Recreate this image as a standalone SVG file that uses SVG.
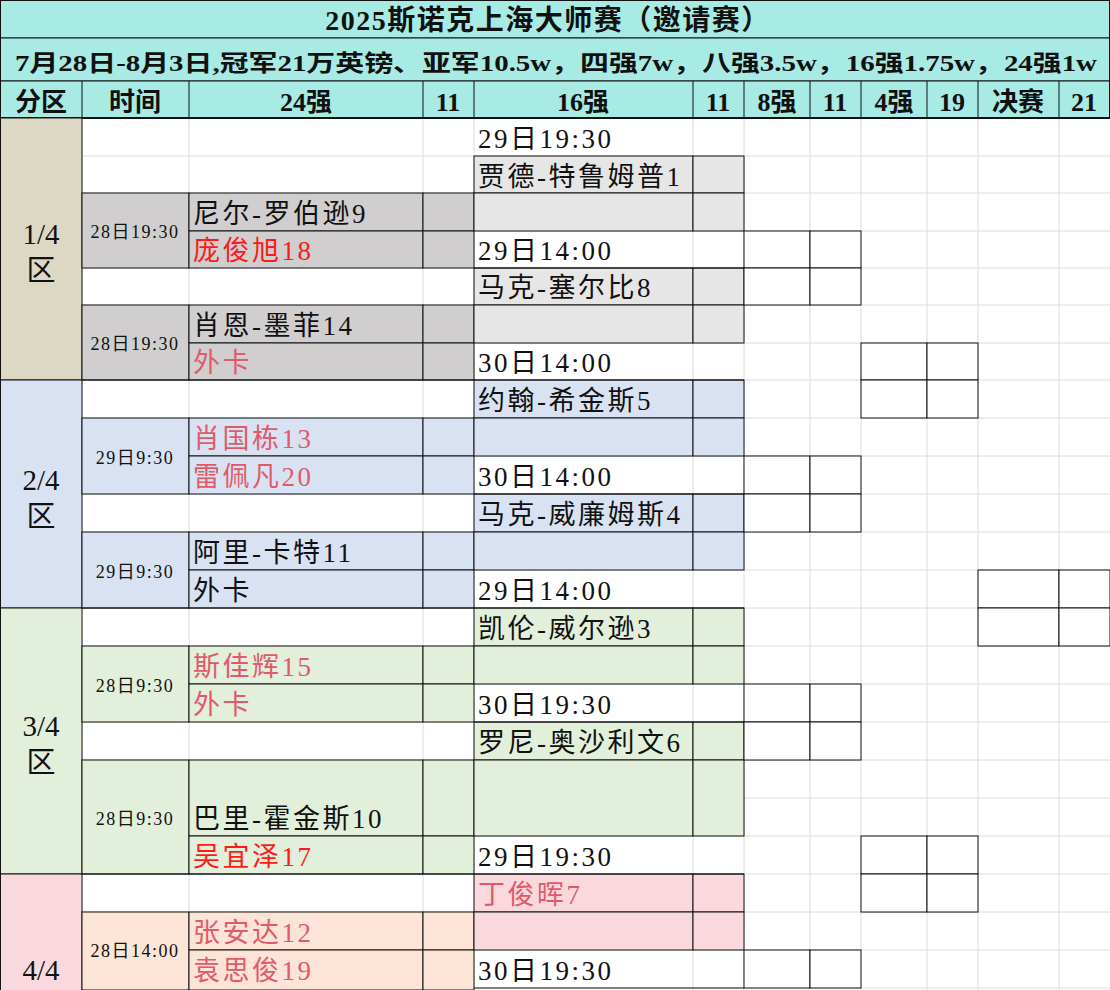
<svg xmlns="http://www.w3.org/2000/svg" width="1110" height="990" viewBox="0 0 1110 990">
<style>
text{font-family:"Liberation Serif","Noto Sans CJK SC",serif;fill:#111}
.n{font-size:27px;letter-spacing:2.5px}
.t{font-size:18px;text-anchor:middle;letter-spacing:1.5px}
.h{font-size:26px;text-anchor:middle}
.r{fill:#ff1a1a}
.p{fill:#e05a6a}
.g line{stroke:#dcdcdc;stroke-width:1}
.b{stroke:#111;stroke-width:1}
</style>
<rect width="1110" height="990" fill="#fff"/>
<g class="g">
<line x1="82" y1="118" x2="82" y2="990"/><line x1="189" y1="118" x2="189" y2="990"/><line x1="423" y1="118" x2="423" y2="990"/><line x1="474" y1="118" x2="474" y2="990"/><line x1="693" y1="118" x2="693" y2="990"/><line x1="744" y1="118" x2="744" y2="990"/><line x1="810" y1="118" x2="810" y2="990"/><line x1="861" y1="118" x2="861" y2="990"/><line x1="927" y1="118" x2="927" y2="990"/><line x1="978" y1="118" x2="978" y2="990"/><line x1="1059" y1="118" x2="1059" y2="990"/>
<line x1="82" y1="156" x2="1110" y2="156"/><line x1="82" y1="193" x2="1110" y2="193"/><line x1="82" y1="231" x2="1110" y2="231"/><line x1="82" y1="268" x2="1110" y2="268"/><line x1="82" y1="305" x2="1110" y2="305"/><line x1="82" y1="343" x2="1110" y2="343"/><line x1="82" y1="380" x2="1110" y2="380"/><line x1="82" y1="418" x2="1110" y2="418"/><line x1="82" y1="456" x2="1110" y2="456"/><line x1="82" y1="494" x2="1110" y2="494"/><line x1="82" y1="532" x2="1110" y2="532"/><line x1="82" y1="570" x2="1110" y2="570"/><line x1="82" y1="608" x2="1110" y2="608"/><line x1="82" y1="646" x2="1110" y2="646"/><line x1="82" y1="684" x2="1110" y2="684"/><line x1="82" y1="722" x2="1110" y2="722"/><line x1="82" y1="760" x2="1110" y2="760"/><line x1="82" y1="798" x2="1110" y2="798"/><line x1="82" y1="836" x2="1110" y2="836"/><line x1="82" y1="874" x2="1110" y2="874"/><line x1="82" y1="912" x2="1110" y2="912"/><line x1="82" y1="950" x2="1110" y2="950"/><line x1="82" y1="988" x2="1110" y2="988"/>
</g>
<g id="header">
<rect x="0.5" y="0.5" width="1109" height="37.5" fill="#a8ebe4" class="b"/>
<rect x="0.5" y="38" width="1109" height="43" fill="#a8ebe4" class="b"/>
<rect x="0.5" y="81" width="1109" height="37" fill="#a8ebe4" class="b"/>
<line x1="82" y1="81" x2="82" y2="118" class="b"/><line x1="189" y1="81" x2="189" y2="118" class="b"/><line x1="423" y1="81" x2="423" y2="118" class="b"/><line x1="474" y1="81" x2="474" y2="118" class="b"/><line x1="693" y1="81" x2="693" y2="118" class="b"/><line x1="744" y1="81" x2="744" y2="118" class="b"/><line x1="810" y1="81" x2="810" y2="118" class="b"/><line x1="861" y1="81" x2="861" y2="118" class="b"/><line x1="927" y1="81" x2="927" y2="118" class="b"/><line x1="978" y1="81" x2="978" y2="118" class="b"/><line x1="1059" y1="81" x2="1059" y2="118" class="b"/>
<line x1="0" y1="118" x2="1110" y2="118" stroke="#111" stroke-width="2"/>
<text x="548" y="30" class="h" style="font-size:28px;letter-spacing:1.5px;font-weight:bold">2025斯诺克上海大师赛（邀请赛）</text>
<text x="15" y="71" style="font-size:23px;font-weight:bold" textLength="1082" lengthAdjust="spacingAndGlyphs">7月28日-8月3日,冠军21万英镑、亚军10.5w，四强7w，八强3.5w，16强1.75w，24强1w</text>
<g style="font-weight:bold">
<text x="41" y="111" class="h">分区</text><text x="135" y="111" class="h">时间</text><text x="306" y="111" class="h">24强</text><text x="448" y="111" class="h">11</text><text x="583" y="111" class="h">16强</text><text x="718" y="111" class="h">11</text><text x="777" y="111" class="h">8强</text><text x="835" y="111" class="h">11</text><text x="894" y="111" class="h">4强</text><text x="952" y="111" class="h">19</text><text x="1018" y="111" class="h">决赛</text><text x="1084" y="111" class="h">21</text>
</g>
</g>
<g id="regions" class="b">
<rect x="0.5" y="118" width="81.5" height="262" fill="#ddd8c4"/>
<rect x="0.5" y="380" width="81.5" height="228" fill="#d9e2f3"/>
<rect x="0.5" y="608" width="81.5" height="266" fill="#e2efda"/>
<rect x="0.5" y="874" width="81.5" height="120" fill="#f9d9de"/>
</g>
<g id="region-labels">
<text x="41" y="244" class="h" style="font-size:29px">1/4</text><text x="41" y="281" class="h" style="font-size:29px">区</text>
<text x="41" y="490" class="h" style="font-size:29px">2/4</text><text x="41" y="527" class="h" style="font-size:29px">区</text>
<text x="41" y="736" class="h" style="font-size:29px">3/4</text><text x="41" y="773" class="h" style="font-size:29px">区</text>
<text x="41" y="980" class="h" style="font-size:29px">4/4</text>
</g>
<g id="r24" class="b">
<rect x="82" y="193" width="107" height="75" fill="#d0cece"/><rect x="189" y="193" width="234" height="38" fill="#d0cece"/><rect x="423" y="193" width="51" height="38" fill="#d0cece"/><rect x="189" y="231" width="234" height="37" fill="#d0cece"/><rect x="423" y="231" width="51" height="37" fill="#d0cece"/>
<rect x="82" y="305" width="107" height="75" fill="#d0cece"/><rect x="189" y="305" width="234" height="38" fill="#d0cece"/><rect x="423" y="305" width="51" height="38" fill="#d0cece"/><rect x="189" y="343" width="234" height="37" fill="#d0cece"/><rect x="423" y="343" width="51" height="37" fill="#d0cece"/>
<rect x="82" y="418" width="107" height="76" fill="#d9e2f3"/><rect x="189" y="418" width="234" height="38" fill="#d9e2f3"/><rect x="423" y="418" width="51" height="38" fill="#d9e2f3"/><rect x="189" y="456" width="234" height="38" fill="#d9e2f3"/><rect x="423" y="456" width="51" height="38" fill="#d9e2f3"/>
<rect x="82" y="532" width="107" height="76" fill="#d9e2f3"/><rect x="189" y="532" width="234" height="38" fill="#d9e2f3"/><rect x="423" y="532" width="51" height="38" fill="#d9e2f3"/><rect x="189" y="570" width="234" height="38" fill="#d9e2f3"/><rect x="423" y="570" width="51" height="38" fill="#d9e2f3"/>
<rect x="82" y="646" width="107" height="76" fill="#e2efda"/><rect x="189" y="646" width="234" height="38" fill="#e2efda"/><rect x="423" y="646" width="51" height="38" fill="#e2efda"/><rect x="189" y="684" width="234" height="38" fill="#e2efda"/><rect x="423" y="684" width="51" height="38" fill="#e2efda"/>
<rect x="82" y="760" width="107" height="114" fill="#e2efda"/><rect x="189" y="760" width="234" height="76" fill="#e2efda"/><rect x="423" y="760" width="51" height="76" fill="#e2efda"/><rect x="189" y="836" width="234" height="38" fill="#e2efda"/><rect x="423" y="836" width="51" height="38" fill="#e2efda"/>
<rect x="82" y="912" width="107" height="78" fill="#fce4d6"/><rect x="189" y="912" width="234" height="38" fill="#fce4d6"/><rect x="423" y="912" width="51" height="38" fill="#fce4d6"/><rect x="189" y="950" width="234" height="40" fill="#fce4d6"/><rect x="423" y="950" width="51" height="40" fill="#fce4d6"/>
</g>
<g id="r16" class="b">
<rect x="474" y="156" width="219" height="37" fill="#e7e6e6"/><rect x="693" y="156" width="51" height="37" fill="#e7e6e6"/><rect x="474" y="193" width="219" height="38" fill="#e7e6e6"/><rect x="693" y="193" width="51" height="38" fill="#e7e6e6"/>
<rect x="474" y="268" width="219" height="37" fill="#e7e6e6"/><rect x="693" y="268" width="51" height="37" fill="#e7e6e6"/><rect x="474" y="305" width="219" height="38" fill="#e7e6e6"/><rect x="693" y="305" width="51" height="38" fill="#e7e6e6"/>
<rect x="474" y="380" width="219" height="38" fill="#d9e2f3"/><rect x="693" y="380" width="51" height="38" fill="#d9e2f3"/><rect x="474" y="418" width="219" height="38" fill="#d9e2f3"/><rect x="693" y="418" width="51" height="38" fill="#d9e2f3"/>
<rect x="474" y="494" width="219" height="38" fill="#d9e2f3"/><rect x="693" y="494" width="51" height="38" fill="#d9e2f3"/><rect x="474" y="532" width="219" height="38" fill="#d9e2f3"/><rect x="693" y="532" width="51" height="38" fill="#d9e2f3"/>
<rect x="474" y="608" width="219" height="38" fill="#e2efda"/><rect x="693" y="608" width="51" height="38" fill="#e2efda"/><rect x="474" y="646" width="219" height="38" fill="#e2efda"/><rect x="693" y="646" width="51" height="38" fill="#e2efda"/>
<rect x="474" y="722" width="219" height="38" fill="#e2efda"/><rect x="693" y="722" width="51" height="38" fill="#e2efda"/><rect x="474" y="760" width="219" height="76" fill="#e2efda"/><rect x="693" y="760" width="51" height="76" fill="#e2efda"/>
<rect x="474" y="874" width="219" height="38" fill="#f9d9de"/><rect x="693" y="874" width="51" height="38" fill="#f9d9de"/><rect x="474" y="912" width="219" height="38" fill="#f9d9de"/><rect x="693" y="912" width="51" height="38" fill="#f9d9de"/>
<line x1="474" y1="268" x2="744" y2="268"/><line x1="474" y1="380" x2="744" y2="380"/><line x1="474" y1="494" x2="744" y2="494"/><line x1="474" y1="608" x2="744" y2="608"/><line x1="474" y1="722" x2="744" y2="722"/><line x1="474" y1="874" x2="744" y2="874"/><line x1="474" y1="988" x2="744" y2="988"/>
<line x1="82" y1="380" x2="474" y2="380"/><line x1="82" y1="608" x2="474" y2="608"/><line x1="82" y1="874" x2="474" y2="874"/>
</g>
<g id="boxes" class="b" fill="#fff">
<rect x="744" y="231" width="66" height="37"/><rect x="810" y="231" width="51" height="37"/><rect x="744" y="268" width="66" height="37"/><rect x="810" y="268" width="51" height="37"/>
<rect x="861" y="343" width="66" height="37"/><rect x="927" y="343" width="51" height="37"/><rect x="861" y="380" width="66" height="38"/><rect x="927" y="380" width="51" height="38"/>
<rect x="744" y="456" width="66" height="38"/><rect x="810" y="456" width="51" height="38"/><rect x="744" y="494" width="66" height="38"/><rect x="810" y="494" width="51" height="38"/>
<rect x="978" y="570" width="81" height="38"/><rect x="1059" y="570" width="51" height="38"/><rect x="978" y="608" width="81" height="38"/><rect x="1059" y="608" width="51" height="38"/>
<rect x="744" y="684" width="66" height="38"/><rect x="810" y="684" width="51" height="38"/><rect x="744" y="722" width="66" height="38"/><rect x="810" y="722" width="51" height="38"/>
<rect x="861" y="836" width="66" height="38"/><rect x="927" y="836" width="51" height="38"/><rect x="861" y="874" width="66" height="38"/><rect x="927" y="874" width="51" height="38"/>
<rect x="744" y="950" width="66" height="38"/><rect x="810" y="950" width="51" height="38"/>
</g>
<g id="times">
<text x="135" y="238" class="t">28日19:30</text><text x="135" y="350" class="t">28日19:30</text>
<text x="135" y="464" class="t">29日9:30</text><text x="135" y="578" class="t">29日9:30</text>
<text x="135" y="692" class="t">28日9:30</text><text x="135" y="825" class="t">28日9:30</text>
<text x="135" y="957" class="t">28日14:00</text>
</g>
<g id="names">
<text x="478" y="148" class="n">29日19:30</text>
<text x="478" y="186" class="n">贾德-特鲁姆普1</text>
<text x="193" y="223" class="n">尼尔-罗伯逊9</text>
<text x="193" y="260" class="n r">庞俊旭18</text>
<text x="478" y="260" class="n">29日14:00</text>
<text x="478" y="297" class="n">马克-塞尔比8</text>
<text x="193" y="335" class="n">肖恩-墨菲14</text>
<text x="193" y="372" class="n p">外卡</text>
<text x="478" y="372" class="n">30日14:00</text>
<text x="478" y="410" class="n">约翰-希金斯5</text>
<text x="193" y="448" class="n p">肖国栋13</text>
<text x="193" y="486" class="n p">雷佩凡20</text>
<text x="478" y="486" class="n">30日14:00</text>
<text x="478" y="524" class="n">马克-威廉姆斯4</text>
<text x="193" y="562" class="n">阿里-卡特11</text>
<text x="193" y="600" class="n">外卡</text>
<text x="478" y="600" class="n">29日14:00</text>
<text x="478" y="638" class="n">凯伦-威尔逊3</text>
<text x="193" y="676" class="n p">斯佳辉15</text>
<text x="193" y="714" class="n p">外卡</text>
<text x="478" y="714" class="n">30日19:30</text>
<text x="478" y="752" class="n">罗尼-奥沙利文6</text>
<text x="193" y="828" class="n">巴里-霍金斯10</text>
<text x="193" y="866" class="n r">吴宜泽17</text>
<text x="478" y="866" class="n">29日19:30</text>
<text x="478" y="904" class="n p">丁俊晖7</text>
<text x="193" y="942" class="n p">张安达12</text>
<text x="193" y="980" class="n p">袁思俊19</text>
<text x="478" y="980" class="n">30日19:30</text>
</g>
</svg>
